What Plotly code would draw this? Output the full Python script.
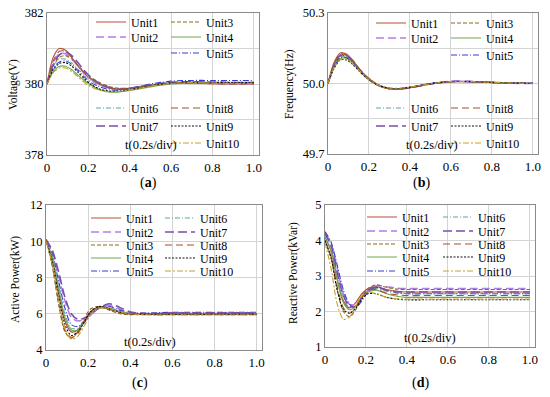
import plotly.graph_objects as go

W, H = 550, 397
t = [0, 0.03, 0.06, 0.09, 0.12, 0.15, 0.18, 0.21, 0.25, 0.3, 0.35, 0.4, 0.5, 0.6, 0.7, 0.8, 0.9, 1.0]
units = ["Unit1", "Unit2", "Unit3", "Unit4", "Unit5", "Unit6", "Unit7", "Unit8", "Unit9", "Unit10"]

voltage = [
    [380, 380.75, 381.0, 380.95, 380.75, 380.5, 380.3, 380.15, 380.0, 379.88, 379.85, 379.88, 379.97, 380.03, 380.03, 380.01, 380.0, 380.0],
    [380, 380.6, 380.85, 380.85, 380.7, 380.5, 380.3, 380.15, 380.0, 379.9, 379.85, 379.87, 379.96, 380.04, 380.04, 380.02, 380.01, 380.01],
    [380, 380.5, 380.75, 380.8, 380.7, 380.52, 380.35, 380.2, 380.05, 379.93, 379.88, 379.88, 379.95, 380.02, 380.04, 380.03, 380.02, 380.02],
    [380, 380.35, 380.5, 380.5, 380.4, 380.25, 380.1, 379.98, 379.85, 379.78, 379.78, 379.82, 379.92, 380.0, 380.03, 380.03, 380.02, 380.02],
    [380, 380.45, 380.62, 380.65, 380.55, 380.38, 380.2, 380.05, 379.93, 379.84, 379.83, 379.88, 380.0, 380.08, 380.1, 380.1, 380.1, 380.1],
    [380, 380.5, 380.7, 380.7, 380.6, 380.42, 380.25, 380.1, 379.97, 379.88, 379.86, 379.89, 379.98, 380.05, 380.06, 380.05, 380.05, 380.05],
    [380, 380.55, 380.82, 380.9, 380.8, 380.6, 380.38, 380.2, 380.03, 379.9, 379.86, 379.88, 379.97, 380.05, 380.06, 380.05, 380.04, 380.04],
    [380, 380.65, 380.92, 380.92, 380.75, 380.52, 380.32, 380.16, 380.02, 379.9, 379.86, 379.88, 379.96, 380.02, 380.02, 380.01, 380.0, 380.0],
    [380, 380.4, 380.58, 380.6, 380.5, 380.33, 380.15, 380.0, 379.87, 379.8, 379.8, 379.84, 379.95, 380.03, 380.05, 380.05, 380.04, 380.04],
    [380, 380.32, 380.45, 380.45, 380.35, 380.2, 380.05, 379.93, 379.83, 379.78, 379.79, 379.83, 379.94, 380.02, 380.04, 380.03, 380.02, 380.02],
]

frequency = [
    [50.0, 50.09, 50.13, 50.125, 50.1, 50.065, 50.035, 50.012, 49.99, 49.978, 49.976, 49.982, 49.998, 50.008, 50.008, 50.004, 50.001, 50.0],
    [50.0, 50.08, 50.12, 50.12, 50.095, 50.062, 50.033, 50.01, 49.99, 49.978, 49.977, 49.983, 49.999, 50.009, 50.008, 50.004, 50.001, 50.0],
    [50.0, 50.075, 50.115, 50.115, 50.095, 50.065, 50.037, 50.015, 49.993, 49.98, 49.978, 49.983, 49.998, 50.008, 50.008, 50.004, 50.002, 50.001],
    [50.0, 50.07, 50.105, 50.108, 50.088, 50.058, 50.03, 50.01, 49.99, 49.979, 49.978, 49.984, 49.999, 50.008, 50.008, 50.005, 50.002, 50.001],
    [50.0, 50.075, 50.11, 50.11, 50.09, 50.06, 50.032, 50.012, 49.992, 49.98, 49.979, 49.985, 50.0, 50.009, 50.009, 50.005, 50.003, 50.002],
    [50.0, 50.078, 50.115, 50.113, 50.092, 50.061, 50.033, 50.012, 49.991, 49.979, 49.978, 49.984, 49.999, 50.008, 50.008, 50.004, 50.002, 50.001],
    [50.0, 50.08, 50.12, 50.118, 50.097, 50.064, 50.035, 50.013, 49.991, 49.978, 49.976, 49.982, 49.998, 50.008, 50.008, 50.004, 50.002, 50.001],
    [50.0, 50.085, 50.125, 50.12, 50.096, 50.062, 50.033, 50.011, 49.99, 49.977, 49.976, 49.982, 49.998, 50.007, 50.007, 50.004, 50.001, 50.0],
    [50.0, 50.065, 50.1, 50.1, 50.082, 50.055, 50.03, 50.01, 49.991, 49.98, 49.979, 49.984, 49.999, 50.008, 50.008, 50.005, 50.002, 50.001],
    [50.0, 50.068, 50.102, 50.104, 50.085, 50.057, 50.031, 50.011, 49.992, 49.981, 49.98, 49.985, 49.999, 50.008, 50.008, 50.005, 50.002, 50.001],
]

active = [
    [10.0, 9.0, 7.2, 5.6, 5.0, 5.1, 5.6, 6.1, 6.35, 6.25, 6.08, 6.0, 6.0, 6.0, 6.0, 6.0, 6.0, 6.0],
    [10.0, 9.4, 8.1, 6.7, 5.8, 5.6, 5.7, 5.95, 6.3, 6.45, 6.25, 6.08, 6.0, 6.02, 6.02, 6.02, 6.02, 6.02],
    [10.1, 8.6, 6.5, 5.0, 4.65, 5.0, 5.7, 6.25, 6.4, 6.2, 6.0, 5.95, 5.95, 5.95, 5.95, 5.95, 5.95, 5.95],
    [10.0, 9.1, 7.4, 5.8, 5.1, 5.1, 5.5, 6.0, 6.3, 6.3, 6.1, 6.02, 6.0, 6.0, 6.0, 6.0, 6.0, 6.0],
    [10.0, 9.3, 7.8, 6.3, 5.4, 5.3, 5.5, 5.9, 6.3, 6.4, 6.2, 6.05, 6.05, 6.08, 6.08, 6.08, 6.08, 6.08],
    [10.0, 9.2, 7.6, 6.0, 5.2, 5.2, 5.5, 6.0, 6.3, 6.35, 6.15, 6.03, 6.0, 6.02, 6.02, 6.02, 6.02, 6.02],
    [10.1, 9.5, 8.3, 6.9, 6.0, 5.7, 5.75, 5.95, 6.3, 6.55, 6.35, 6.1, 6.0, 6.05, 6.05, 6.05, 6.05, 6.05],
    [10.1, 8.7, 6.7, 5.1, 4.7, 4.9, 5.5, 6.05, 6.4, 6.25, 6.05, 5.97, 5.98, 5.98, 5.98, 5.98, 5.98, 5.98],
    [10.0, 8.9, 7.0, 5.4, 4.8, 5.0, 5.5, 6.1, 6.4, 6.3, 6.1, 6.0, 5.97, 5.97, 5.97, 5.97, 5.97, 5.97],
    [10.0, 8.8, 6.8, 5.2, 4.6, 4.75, 5.3, 5.9, 6.3, 6.3, 6.1, 6.0, 5.93, 5.93, 5.93, 5.93, 5.93, 5.93],
]

reactive = [
    [4.1, 3.7, 2.9, 2.3, 2.1, 2.25, 2.5, 2.65, 2.7, 2.62, 2.57, 2.55, 2.55, 2.55, 2.55, 2.55, 2.55, 2.55],
    [4.2, 3.9, 3.2, 2.5, 2.2, 2.2, 2.4, 2.6, 2.72, 2.7, 2.66, 2.65, 2.65, 2.65, 2.65, 2.65, 2.65, 2.65],
    [4.0, 3.5, 2.6, 2.0, 1.85, 2.05, 2.4, 2.65, 2.75, 2.68, 2.63, 2.62, 2.62, 2.62, 2.62, 2.62, 2.62, 2.62],
    [4.1, 3.7, 2.9, 2.25, 2.05, 2.15, 2.4, 2.55, 2.6, 2.5, 2.43, 2.4, 2.4, 2.4, 2.4, 2.4, 2.4, 2.4],
    [4.25, 3.95, 3.3, 2.6, 2.2, 2.1, 2.3, 2.55, 2.68, 2.6, 2.53, 2.5, 2.5, 2.5, 2.5, 2.5, 2.5, 2.5],
    [4.15, 3.8, 3.05, 2.4, 2.1, 2.15, 2.4, 2.6, 2.65, 2.57, 2.52, 2.5, 2.5, 2.5, 2.5, 2.5, 2.5, 2.5],
    [4.2, 3.85, 3.1, 2.45, 2.15, 2.15, 2.4, 2.6, 2.68, 2.6, 2.56, 2.55, 2.55, 2.55, 2.55, 2.55, 2.55, 2.55],
    [4.0, 3.55, 2.7, 2.1, 1.95, 2.1, 2.4, 2.6, 2.62, 2.52, 2.47, 2.45, 2.45, 2.45, 2.45, 2.45, 2.45, 2.45],
    [4.0, 3.5, 2.6, 2.05, 1.95, 2.1, 2.35, 2.5, 2.5, 2.4, 2.35, 2.33, 2.33, 2.33, 2.33, 2.33, 2.33, 2.33],
    [3.95, 3.2, 2.2, 1.78, 1.85, 2.15, 2.45, 2.55, 2.5, 2.4, 2.36, 2.35, 2.35, 2.35, 2.35, 2.35, 2.35, 2.35],
]

colors = ["#b5503a", "#b27ee6", "#8c6a1e", "#6aa84f", "#3a3ad0",
          "#5fa3a8", "#7a4fa8", "#a3502a", "#111111", "#c9a12a"]
dashes = ["solid", "8px,4px", "4px,2px", "solid", "6px,2px,1px,2px",
          "5px,2px,1px,2px", "9px,4px", "7px,4px", "2px,1.5px", "6px,2px,2px,2px"]
widths = [1.2, 1.5, 1.1, 1.2, 1.1, 1.0, 1.6, 1.1, 1.1, 1.1]

SERIF = "Liberation Serif, Times New Roman, serif"

panels = [
    dict(data=voltage, x0=47, x1=259, y0=13, y1=155, yr=[378, 382],
         tv=[378, 379, 380, 381, 382], tt=["378", "", "380", "", "382"],
         title="Voltage(V)", tx=13, ty=85, lab="a", lx=148, ly=183),
    dict(data=frequency, x0=328, x1=538, y0=13, y1=154, yr=[49.7, 50.3],
         tv=[49.7, 49.85, 50.0, 50.15, 50.3], tt=["49.7", "", "50.0", "", "50.3"],
         title="Frequency(Hz)", tx=290, ty=84, lab="b", lx=422, ly=183),
    dict(data=active, x0=46, x1=262, y0=205, y1=350, yr=[4, 12],
         tv=[4, 6, 8, 10, 12], tt=["4", "6", "8", "10", "12"],
         title="Active Power(kW)", tx=15, ty=280, lab="c", lx=140, ly=383),
    dict(data=reactive, x0=325, x1=535, y0=205, y1=347, yr=[1, 5],
         tv=[1, 2, 3, 4, 5], tt=["1", "2", "3", "4", "5"],
         title="Reactive Power(kVar)", tx=293, ty=273, lab="d", lx=420, ly=383),
]

# legend entry positions (label text start x, row centre y) per panel
leg_pos = [
    {0: (140, 22), 1: (140, 37), 5: (140, 108), 6: (140, 126),
     2: (215, 22), 3: (215, 37), 4: (215, 53), 7: (215, 108), 8: (215, 126), 9: (215, 143)},
    {0: (420, 23), 1: (420, 38), 5: (420, 108), 6: (420, 126),
     2: (495, 23), 3: (495, 38), 4: (495, 55), 7: (495, 108), 8: (495, 126), 9: (495, 143)},
    {0: (135, 218), 1: (135, 232), 2: (135, 245), 3: (135, 258), 4: (135, 271),
     5: (209, 218), 6: (209, 232), 7: (209, 245), 8: (209, 258), 9: (209, 271)},
    {0: (411, 217), 1: (411, 231), 2: (411, 244), 3: (411, 257), 4: (411, 271),
     5: (487, 217), 6: (487, 231), 7: (487, 244), 8: (487, 257), 9: (487, 271)},
]
tdiv_pos = [(151, 145), (432, 145), (150, 342), (430, 338)]

fig = go.Figure()
layout = dict(width=W, height=H, margin=dict(l=0, r=0, t=0, b=0, autoexpand=False), autosize=False,
              paper_bgcolor="white", plot_bgcolor="white",
              font=dict(family=SERIF, size=12, color="black"), annotations=[])

leg_n = 0
for p_i, p in enumerate(panels):
    sfx = "" if p_i == 0 else str(p_i + 1)
    for u_i, name in enumerate(units):
        leg_n += 1
        lname = "legend" if leg_n == 1 else f"legend{leg_n}"
        fig.add_trace(go.Scatter(
            x=t, y=p["data"][u_i], mode="lines", name=name,
            line=dict(color=colors[u_i], dash=dashes[u_i], width=widths[u_i], shape="spline", smoothing=0.8),
            xaxis="x" + sfx, yaxis="y" + sfx, legend=lname, showlegend=True))
        lx, ly = leg_pos[p_i][u_i]
        layout[lname] = dict(x=(lx - 49) / W, y=1 - ly / H, xanchor="left", yanchor="middle",
                             bgcolor="rgba(0,0,0,0)", borderwidth=0,
                             font=dict(family=SERIF, size=12, color="black"),
                             itemwidth=30, tracegroupgap=0)
    layout["xaxis" + sfx] = dict(
        domain=[p["x0"] / W, p["x1"] / W], anchor="y" + sfx, range=[0, 1.025],
        tickvals=[0, 0.2, 0.4, 0.6, 0.8, 1.0], ticktext=["0", "0.2", "0.4", "0.6", "0.8", "1.0"],
        showgrid=True, gridcolor="#d4d4d4", gridwidth=1, zeroline=False, automargin=False,
        showline=True, linecolor="#8a8a8a", linewidth=1, mirror=True, ticks="",
        tickfont=dict(family=SERIF, size=13, color="black"))
    layout["yaxis" + sfx] = dict(
        domain=[1 - p["y1"] / H, 1 - p["y0"] / H], anchor="x" + sfx, range=p["yr"],
        tickvals=p["tv"], ticktext=p["tt"], automargin=False,
        showgrid=True, gridcolor="#d4d4d4", gridwidth=1, zeroline=False,
        showline=True, linecolor="#8a8a8a", linewidth=1, mirror=True, ticks="",
        tickfont=dict(family=SERIF, size=12.5, color="black"))
    layout["annotations"].append(dict(
        text=p["title"], x=p["tx"] / W, y=1 - p["ty"] / H, xref="paper", yref="paper",
        textangle=-90, showarrow=False, font=dict(family=SERIF, size=11.5, color="black"),
        xanchor="center", yanchor="middle"))
    layout["annotations"].append(dict(
        text="(<b>" + p["lab"] + "</b>)", x=p["lx"] / W, y=1 - p["ly"] / H, xref="paper", yref="paper",
        showarrow=False, font=dict(family=SERIF, size=14, color="black"),
        xanchor="center", yanchor="middle"))
    tx, ty = tdiv_pos[p_i]
    layout["annotations"].append(dict(
        text="t(0.2s/div)", x=tx / W, y=1 - ty / H, xref="paper", yref="paper",
        showarrow=False, font=dict(family=SERIF, size=12.5, color="black"),
        xanchor="center", yanchor="middle"))

fig.update_layout(**layout)
fig.write_html("out.html", config={"displayModeBar": False},
               post_script="document.body.style.margin='0';document.body.style.overflow='hidden';")
